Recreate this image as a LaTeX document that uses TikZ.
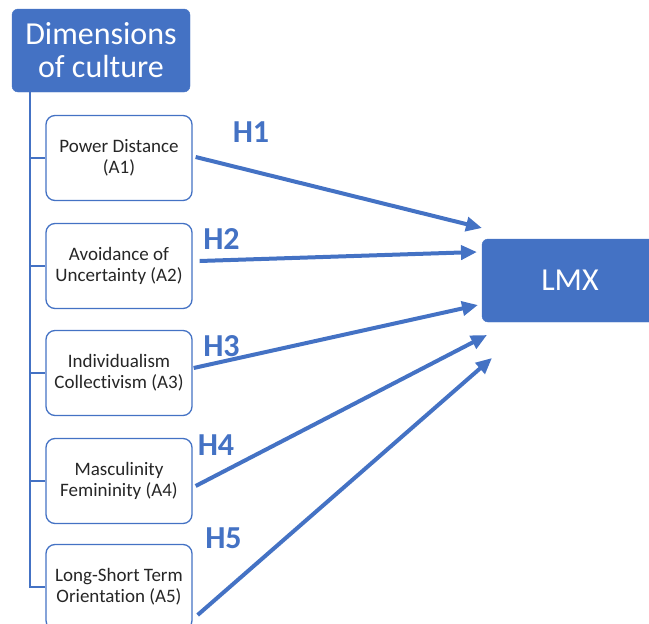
\documentclass[tikz,border=0pt]{standalone}
\usepackage{fontspec}
\setmainfont{Carlito}[Ligatures=NoCommon]
\usetikzlibrary{arrows.meta}
\definecolor{accent}{HTML}{4472C4}
\definecolor{bodytext}{HTML}{262626}

\begin{document}
\begin{tikzpicture}[x=1pt,y=-1pt,
  headbox/.style={rectangle, rounded corners=6pt, fill=accent, draw=accent,
    text=white, font=\fontsize{32}{33}\selectfont, align=center, inner sep=0pt},
  dimbox/.style={rectangle, rounded corners=9pt, draw=accent, line width=1.3pt,
    fill=white, text=bodytext, font=\fontsize{19}{21}\selectfont, align=center,
    minimum width=146pt, minimum height=85pt, inner sep=0pt},
  tree/.style={draw=accent, line width=2pt},
  hyp/.style={draw=accent, line width=4pt, -{Triangle[length=16pt,width=14pt]}},
  hlabel/.style={text=accent, font=\fontsize{32}{32}\selectfont\bfseries, inner sep=0pt}]

\useasboundingbox (0,0) rectangle (649,624);
\clip (0,0) rectangle (649,624);

% header and outcome boxes
\node[headbox, minimum width=178pt, minimum height=83pt] (dim) at (101,50.5) {Dimensions\\of culture};
\node[headbox, minimum width=176pt, minimum height=83pt] (lmx) at (570,280.5) {LMX};

% trunk of the tree
\coordinate (trunk) at ([xshift=18pt]dim.south west);

% the five dimension boxes
\node[dimbox] (a1) at (119,158) {Power Distance\\(A1)};
\node[dimbox] (a2) at (119,266) {Avoidance of\\Uncertainty (A2)};
\node[dimbox] (a3) at (119,373) {Individualism\\Collectivism (A3)};
\node[dimbox] (a4) at (119,481) {Masculinity\\Femininity (A4)};
\node[dimbox] (a5) at (119,587) {Long-Short Term\\Orientation (A5)};

% tree connectors
\draw[tree] (trunk) |- (a5.west);
\draw[tree] (trunk |- a1.west) -- (a1.west);
\draw[tree] (trunk |- a2.west) -- (a2.west);
\draw[tree] (trunk |- a3.west) -- (a3.west);
\draw[tree] (trunk |- a4.west) -- (a4.west);

% arrow tips near LMX
\coordinate (t1) at (482,228);
\coordinate (t2) at (477,252);
\coordinate (t3) at (478,305);
\coordinate (t4) at (487,335);
\coordinate (t5) at (492,358);

% hypotheses
\draw[hyp] ([xshift=3pt,yshift=1pt]a1.east) -- (t1);
\draw[hyp] ([xshift=7pt,yshift=5pt]a2.east) -- (t2);
\draw[hyp] ([xshift=1pt,yshift=5pt]a3.east) -- (t3);
\draw[hyp] ([xshift=3pt,yshift=-5pt]a4.east) -- (t4);
\draw[hyp] ([xshift=5pt,yshift=-28pt]a5.east) -- (t5);

\node[hlabel] (h1) at (251,132) {H1};
\node[hlabel] (h2) at (221.5,239) {H2};
\node[hlabel] (h3) at (221.5,346) {H3};
\node[hlabel] (h4) at (216,445.5) {H4};
\node[hlabel] (h5) at (223.5,538) {H5};
\end{tikzpicture}
\end{document}
